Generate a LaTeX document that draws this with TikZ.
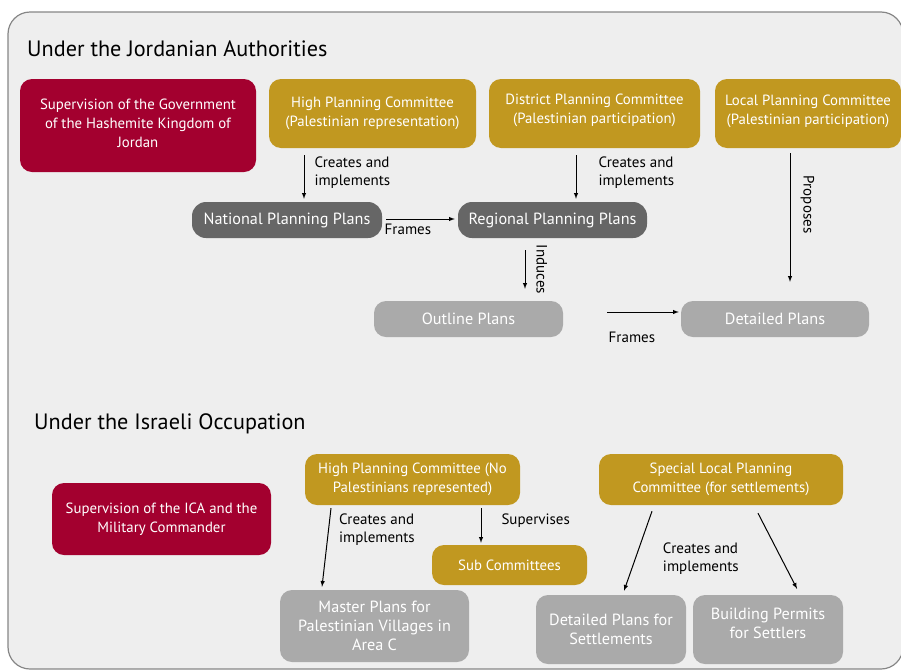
\documentclass[tikz,border=0pt]{standalone}
\usepackage{fontspec}
\setmainfont{PT Sans}
\usepackage{tikz}
\usetikzlibrary{positioning}
\definecolor{wine}{RGB}{163,0,47}
\definecolor{ochre}{RGB}{193,152,32}
\definecolor{plandark}{RGB}{102,102,102}
\definecolor{planlight}{RGB}{170,170,170}
\definecolor{panel}{RGB}{238,238,238}
% lift the text of a box a little, box stays where it is
\newcommand{\liftby}[2]{\raisebox{#1}[\height][\depth]{\begin{tabular}{@{}c@{}}#2\end{tabular}}}

\begin{document}
\begin{tikzpicture}[x=1pt,y=-1pt,
  box/.style={rounded corners=12pt, text=white, align=center, inner sep=0pt, font=\fontsize{14.8}{19}\selectfont},
  govbox/.style={box, fill=wine},
  combox/.style={box, fill=ochre},
  natbox/.style={box, fill=plandark, rounded corners=14pt, font=\fontsize{16.2}{19}\selectfont},
  outbox/.style={box, fill=planlight, font=\fontsize{16.2}{19}\selectfont},
  arr/.style={-latex, line width=1pt},
  lbl/.style={font=\fontsize{15}{18}\selectfont, align=left, inner sep=0pt},
  head/.style={font=\fontsize{22.2}{26}\selectfont, anchor=base west, inner sep=0pt}]
\useasboundingbox (0,0) rectangle (901,670);
\clip (0,0) rectangle (901,670);
\filldraw[fill=panel, draw=gray!95, line width=1.2pt, rounded corners=22pt] (8,12) rectangle (903,669); %

% Jordanian part
\node[head] (jordt) at (27,56) {Under the Jordanian Authorities};
\node[govbox, minimum width=236pt, minimum height=93pt] (govj) at (138,125.5) {\liftby{1pt}{Supervision of the Government\\of the Hashemite Kingdom of\\Jordan}};
\node[combox, minimum width=207pt, minimum height=69pt] (hpcj) at (372.5,113.5) {High Planning Committee\\(Palestinian representation)};
\node[combox, minimum width=211pt, minimum height=69pt] (dpcj) at (594.5,113.5) {\liftby{3pt}{District Planning Committee\\(Palestinian participation)}};
\node[combox, minimum width=186pt, minimum height=69pt] (lpcj) at (808,113.5) {\liftby{2pt}{Local Planning Committee\\(Palestinian participation)}};
\node[natbox, minimum width=190pt, minimum height=36pt] (natplan) at (287,220) {National Planning Plans};
\node[natbox, minimum width=189pt, minimum height=36pt] (regplan) at (552.5,220) {Regional Planning Plans};
\node[outbox, minimum width=189pt, minimum height=36pt] (outplan) at (468.5,319) {Outline Plans};
\node[outbox, minimum width=188pt, minimum height=36pt] (detplan) at (775,319) {Detailed Plans};

\draw[arr] ([xshift=-68.5pt,yshift=-7pt]hpcj.south) -- ([xshift=17pt,yshift=3pt]natplan.north) node[lbl, midway, right=10pt, yshift=4pt]{Creates and\\implements};
\draw[arr] ([xshift=-18.5pt,yshift=-7pt]dpcj.south) -- ([xshift=23.5pt,yshift=3pt]regplan.north) node[lbl, midway, right=22pt, yshift=4pt]{Creates and\\implements};
\draw[arr] ([xshift=-18pt,yshift=-5pt]lpcj.south) -- ([xshift=15pt,yshift=19pt]detplan.north) node[lbl, pos=0.4, sloped, above, inner sep=10pt]{Proposes};
\draw[arr] ([xshift=4pt,yshift=1pt]natplan.east) -- ([xshift=-3pt,yshift=1pt]regplan.west) node[lbl, at start, anchor=north west, xshift=-2pt, yshift=-4.5pt]{Frames};
\draw[arr] ([xshift=-27.5pt,yshift=-12pt]regplan.south) -- ([xshift=56.5pt,yshift=12pt]outplan.north) node[lbl, midway, sloped, above, inner sep=11pt]{Induces};
\draw[arr] ([xshift=44pt,yshift=7pt]outplan.east) -- ([xshift=-2pt,yshift=7pt]detplan.west) node[lbl, at start, anchor=north west, xshift=1pt, yshift=-19pt]{Frames};

% Israeli part
\node[head] (israt) at (34,429) {Under the Israeli Occupation};
\node[govbox, minimum width=219pt, minimum height=72pt] (govi) at (161.5,519) {Supervision of the ICA and the\\Military Commander};
\node[combox, minimum width=215pt, minimum height=51pt] (hpci) at (412.5,479.5) {High Planning Committee (No\\Palestinians represented)};
\node[combox, minimum width=244pt, minimum height=51pt] (slpc) at (721,479.5) {Special Local Planning\\Committee (for settlements)};
\node[combox, minimum width=155pt, minimum height=40pt] (subcom) at (509.5,565) {Sub Committees};
\node[outbox, minimum width=189pt, minimum height=72pt] (master) at (374.5,626) {Master Plans for\\Palestinian Villages in\\Area C};
\node[outbox, minimum width=150pt, minimum height=69pt] (setplan) at (611,629.5) {Detailed Plans for\\Settlements};
\node[outbox, minimum width=150pt, minimum height=69pt] (permit) at (768,629.5) {\liftby{4pt}{Building Permits\\for Settlers}};

\draw[arr] ([xshift=-81.5pt,yshift=-3pt]hpci.south) -- ([xshift=-52.5pt,yshift=3pt]master.north) node[lbl, pos=0.27, right=10pt]{Creates and\\implements};
\draw[arr] ([xshift=68.5pt,yshift=-3pt]hpci.south) -- ([xshift=-28.5pt,yshift=2pt]subcom.north) node[lbl, pos=0.35, right=20pt]{Supervises};
\draw[arr] ([xshift=-69pt,yshift=-6pt]slpc.south) -- ([xshift=13pt,yshift=4pt]setplan.north) node[lbl, pos=0.59, right=27pt]{Creates and\\implements};
\draw[arr] ([xshift=37pt,yshift=-8pt]slpc.south) -- ([xshift=29pt,yshift=6pt]permit.north);
\end{tikzpicture}
\end{document}
